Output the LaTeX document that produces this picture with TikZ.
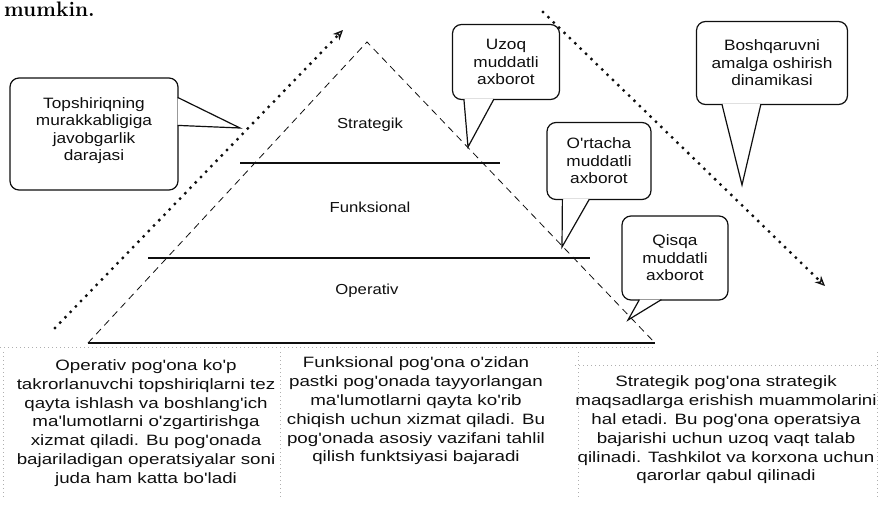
\documentclass[tikz,border=0pt]{standalone}
\usepackage{fontspec}
\usepackage{tikz}
\usetikzlibrary{arrows.meta,calc}
\newfontfamily\scanfont[FakeStretch=1.15]{Liberation Sans}
\newfontfamily\scanwide[FakeStretch=1.25]{Liberation Sans}
\definecolor{cInk}{RGB}{15,15,15}
\definecolor{cFaint}{RGB}{175,175,175}
\tikzset{
  bubble/.style={draw=cInk,line width=1.2pt,rounded corners=9pt,fill=white,align=center,inner sep=2pt,font=\scanfont\fontsize{15}{17.5}\selectfont,text=cInk},
  bubtail/.style={draw=cInk,fill=white,line width=1.2pt},
  pyredge/.style={cInk,line width=0.8pt,dash pattern=on 7pt off 5pt},
  tierline/.style={cInk,line width=1.6pt},
  dotarrow/.style={cInk,line width=3.3pt,line cap=round,dash pattern=on 0pt off 7.5pt,-{Stealth[open,length=10pt,width=9pt,line width=1.3pt]}},
  tier/.style={font=\scanfont\fontsize{14.5}{17}\selectfont,text=cInk},
  coltext/.style={align=center,font=\scanwide\fontsize{15}{18.8}\selectfont,text=cInk},
  sepline/.style={cFaint,line width=0.6pt,dash pattern=on 1pt off 3pt}
}
\begin{document}
\begin{tikzpicture}[x=1pt,y=-1pt]
\useasboundingbox (0,0) rectangle (880,508);
\node[anchor=base west,inner sep=0pt,font=\fontsize{21}{21}\selectfont\bfseries] (mumkin) at (4,17) {mumkin.};
\coordinate (apex) at (367,42);
\coordinate (baseL) at (88,343);
\coordinate (baseR) at (655,343);
\draw[pyredge] (baseL) -- (apex) -- (baseR);
\draw[tierline] (240,163) -- (500,163);
\draw[tierline] (148,258) -- (590,258);
\draw[tierline] (baseL) -- (baseR);
\node[tier] (lblStrat) at (370,125) {Strategik};
\node[tier] (lblFunk) at (370,207) {Funksional};
\node[tier] (lblOper) at (367,291) {Operativ};
\coordinate (upFrom) at (55,328);
\coordinate (upTo) at (343,30);
\coordinate (downFrom) at (543,12);
\coordinate (downTo) at (825,286);
\draw[dotarrow] (upFrom) -- (upTo);
\draw[dotarrow] (downFrom) -- (downTo);
\node[bubble,minimum width=168pt,minimum height=112pt] (topsh) at (94,134) {Topshiriqning\\murakkabligiga\\javobgarlik\\darajasi\\[-8pt]};
\node[bubble,minimum width=107pt,minimum height=75pt] (uzoq) at (506,62) {Uzoq\\muddatli\\axborot};
\node[bubble,minimum width=104pt,minimum height=77pt] (ortacha) at (599,161) {O'rtacha\\muddatli\\axborot};
\node[bubble,minimum width=106pt,minimum height=84pt] (qisqa) at (675,258) {Qisqa\\muddatli\\axborot};
\node[bubble,minimum width=151pt,minimum height=83pt] (boshq) at (772,63) {Boshqaruvni\\amalga oshirish\\dinamikasi};
\coordinate (topshTip) at (240,128);
\coordinate (uzoqTip) at (468,147);
\coordinate (ortachaTip) at (562,247);
\coordinate (qisqaTip) at (628,320);
\coordinate (boshqTip) at (742,185);
\filldraw[bubtail] ($(topsh.north east)+(-1,20)$) -- (topshTip) -- ($(topsh.north east)+(-1,48)$);
\filldraw[bubtail] ($(uzoq.south west)+(12,-1)$) -- (uzoqTip) -- ($(uzoq.south west)+(42,-1)$);
\filldraw[bubtail] ($(ortacha.south west)+(16,-1)$) -- (ortachaTip) -- ($(ortacha.south west)+(43,-1)$);
\filldraw[bubtail] ($(qisqa.south west)+(18,-1)$) -- (qisqaTip) -- ($(qisqa.south west)+(40,-1)$);
\filldraw[bubtail] ($(boshq.south west)+(26,-1)$) -- (boshqTip) -- ($(boshq.south west)+(65,-1)$);
\draw[sepline] (0,347) -- (655,347);
\draw[sepline] (575,365) -- (876,365);
\foreach \sx in {3,280,578,877}
  \draw[sepline] (\sx,352) -- (\sx,500);
\node[coltext] (txtOper) at (146,423) {Operativ pog'ona ko'p\\takrorlanuvchi topshiriqlarni tez\\qayta ishlash va boshlang'ich\\ma'lumotlarni o'zgartirishga\\xizmat qiladi. Bu pog'onada\\bajariladigan operatsiyalar soni\\juda ham katta bo'ladi};
\node[coltext] (txtFunk) at (416,411) {Funksional pog'ona o'zidan\\pastki pog'onada tayyorlangan\\ma'lumotlarni qayta ko'rib\\chiqish uchun xizmat qiladi. Bu\\pog'onada asosiy vazifani tahlil\\qilish funktsiyasi bajaradi};
\node[coltext] (txtStrat) at (726,430) {Strategik pog'ona strategik\\maqsadlarga erishish muammolarini\\hal etadi. Bu pog'ona operatsiya\\bajarishi uchun uzoq vaqt talab\\qilinadi. Tashkilot va korxona uchun\\qarorlar qabul qilinadi};
\end{tikzpicture}
\end{document}
